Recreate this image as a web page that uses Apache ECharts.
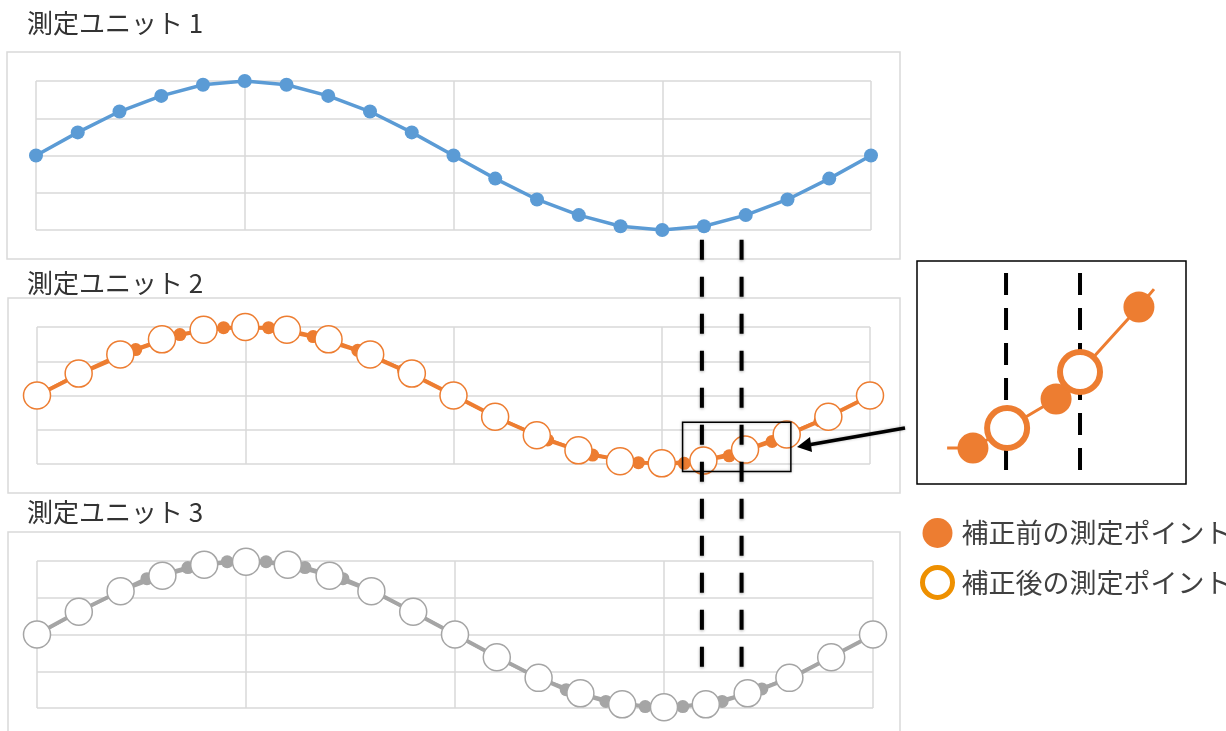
<!DOCTYPE html>
<html>
<head>
<meta charset="utf-8">
<script src="https://cdn.jsdelivr.net/npm/echarts@6/dist/echarts.min.js"></script>
<style>
  html, body { margin: 0; padding: 0; background: #fff; }
  #chart { width: 1226px; height: 731px; }
</style>
</head>
<body>
<div id="chart"></div>
<script>
const unitTitles = ['測定ユニット 1', '測定ユニット 2', '測定ユニット 3']
const legendNames = ['補正前の測定ポイント', '補正後の測定ポイント']

const sampleIdx = [0, 1, 2, 3, 4, 5, 6, 7, 8, 9, 10, 11, 12, 13, 14, 15, 16, 17, 18, 19, 20]
const unit1 = [0, 0.31, 0.59, 0.80, 0.95, 1.0, 0.95, 0.80, 0.59, 0.31, 0, -0.31, -0.59, -0.80, -0.95, -1.0, -0.95, -0.80, -0.59, -0.31, 0]

const unit2After = [0, 0.32, 0.60, 0.82, 0.96, 1.0, 0.96, 0.82, 0.60, 0.32, 0, -0.31, -0.58, -0.80, -0.96, -0.99, -0.95, -0.79, -0.57, -0.31, 0]
const unit2Before = [
  [0.1, 0.03], [1.15, 0.35], [2.37, 0.67], [3.43, 0.89], [4.48, 0.99], [5.56, 0.99],
  [6.63, 0.86], [7.7, 0.66], [8.8, 0.37], [9.95, 0.02], [11.1, -0.34], [12.26, -0.65],
  [13.34, -0.87], [14.44, -0.98], [15.54, -0.99], [16.62, -0.88], [17.65, -0.67],
  [18.8, -0.37], [19.85, -0.05]
]

const unit3After = [0, 0.31, 0.59, 0.80, 0.95, 0.99, 0.95, 0.80, 0.59, 0.31, 0, -0.31, -0.59, -0.80, -0.95, -0.99, -0.95, -0.80, -0.59, -0.31, 0]
const unit3Before = [
  [0.05, 0.02], [0.95, 0.30], [1.85, 0.55], [2.63, 0.76], [3.61, 0.91], [4.55, 0.99], [5.48, 0.99],
  [6.41, 0.91], [7.32, 0.76], [8.15, 0.56], [9.05, 0.29], [10.0, 0], [10.95, -0.29],
  [11.85, -0.55], [12.66, -0.75], [13.61, -0.91], [14.55, -0.98], [15.45, -0.98],
  [16.39, -0.91], [17.34, -0.74], [18.15, -0.56], [19.05, -0.29], [19.95, -0.02]
]

// inset (magnified view), axis 0..10 both ways
const insetLine = [[1.12, 1.61], [2.08, 1.61], [3.35, 2.51], [5.17, 3.81], [6.06, 5.02], [8.25, 7.94], [8.81, 8.74]]
const insetBefore = [[2.08, 1.61], [5.17, 3.81], [8.25, 7.94]]
const insetAfter = [[3.35, 2.51], [6.06, 5.02]]
const insetGuideX = [3.31, 6.06]
const insetGuideY = [0.63, 9.82]

// guide lines and zoom box, in unit axis values
const guideX = [15.95, 16.9]
const zoomBox = [[15.5, -0.39], [18.1, -1.11]]

const BLUE = '#5B9BD5'
const ORANGE = '#ED7D31'
const GRAY = '#A5A5A5'
const GRID = '#D9D9D9'
const FONT = "'Noto Sans CJK JP', sans-serif"

function pairs(xs, ys) {
  return xs.map((x, i) => [x, ys[i]])
}

function panelAxis(gridIndex, min, max, interval) {
  return {
    type: 'value', gridIndex, min, max, interval,
    axisLine: { show: false }, axisTick: { show: false }, axisLabel: { show: false },
    splitLine: { show: true, lineStyle: { color: GRID, width: 1.5 } }
  }
}

function hiddenAxis(gridIndex) {
  return {
    type: 'value', gridIndex, min: 0, max: 10,
    axisLine: { show: false }, axisTick: { show: false }, axisLabel: { show: false },
    splitLine: { show: false }
  }
}

function filledSeries(idx, data, color, width, size) {
  return {
    type: 'line', xAxisIndex: idx, yAxisIndex: idx, data, clip: false,
    symbol: 'circle', symbolSize: size, showSymbol: true,
    lineStyle: { color, width }, itemStyle: { color }, z: 2
  }
}

function hollowSeries(idx, data, color, width) {
  return {
    type: 'line', xAxisIndex: idx, yAxisIndex: idx, data, clip: false,
    symbol: 'circle', symbolSize: 27, showSymbol: true,
    lineStyle: { color, width },
    itemStyle: { color: '#fff', borderColor: color, borderWidth: 1.5 }, z: 3
  }
}

const chart = echarts.init(document.getElementById('chart'), null, { renderer: 'canvas' })

const titleTops = [10, 270, 499]

chart.setOption({
  animation: false,
  backgroundColor: '#fff',
  title: unitTitles.map((t, i) => ({
    text: t, left: 27, top: titleTops[i], padding: 0,
    textStyle: { fontFamily: FONT, fontSize: 26, fontWeight: 'normal', color: '#333' }
  })),
  legend: {
    orient: 'vertical', left: 920, top: 518, padding: 0, itemGap: 17,
    itemWidth: 30, itemHeight: 30, selectedMode: false,
    textStyle: { fontFamily: FONT, fontSize: 27, color: '#404040', padding: [0, 0, 0, 4] },
    data: [
      { name: legendNames[0], icon: 'circle', itemStyle: { color: ORANGE, borderWidth: 0 } },
      { name: legendNames[1], icon: 'circle', itemStyle: { color: '#fff', borderColor: '#EE9000', borderWidth: 5 } }
    ]
  },
  grid: [
    { left: 36, top: 81, width: 835, height: 149 },
    { left: 37, top: 327, width: 833, height: 137 },
    { left: 37, top: 561, width: 836, height: 147 },
    { left: 917, top: 261, width: 269, height: 223, show: true, borderColor: '#000', borderWidth: 1.5, backgroundColor: '#fff' }
  ],
  xAxis: [panelAxis(0, 0, 20, 5), panelAxis(1, 0, 20, 5), panelAxis(2, 0, 20, 5), hiddenAxis(3)],
  yAxis: [panelAxis(0, -1, 1, 0.5), panelAxis(1, -1, 1, 0.5), panelAxis(2, -1, 1, 0.5), hiddenAxis(3)],
  series: [
    filledSeries(0, pairs(sampleIdx, unit1), BLUE, 3.5, 14),
    filledSeries(1, unit2Before, ORANGE, 4, 13),
    hollowSeries(1, pairs(sampleIdx, unit2After), ORANGE, 3),
    filledSeries(2, unit3Before, GRAY, 4, 13),
    hollowSeries(2, pairs(sampleIdx, unit3After), GRAY, 3),
    {
      type: 'line', xAxisIndex: 3, yAxisIndex: 3, data: insetGuideY.map(y => [insetGuideX[0], y]),
      symbol: 'none', lineStyle: { color: '#000', width: 4, type: [22, 13] }, z: 1
    },
    {
      type: 'line', xAxisIndex: 3, yAxisIndex: 3, data: insetGuideY.map(y => [insetGuideX[1], y]),
      symbol: 'none', lineStyle: { color: '#000', width: 4, type: [22, 13] }, z: 1
    },
    {
      type: 'line', xAxisIndex: 3, yAxisIndex: 3, data: insetLine,
      symbol: 'none', lineStyle: { color: ORANGE, width: 3 }, z: 2
    },
    {
      name: legendNames[0], type: 'scatter', xAxisIndex: 3, yAxisIndex: 3, data: insetBefore,
      symbol: 'circle', symbolSize: 31, itemStyle: { color: ORANGE, opacity: 1 }, z: 3
    },
    {
      name: legendNames[1], type: 'scatter', xAxisIndex: 3, yAxisIndex: 3, data: insetAfter,
      symbol: 'circle', symbolSize: 40, itemStyle: { color: '#fff', borderColor: ORANGE, borderWidth: 6, opacity: 1 }, z: 4
    }
  ]
})

const top1 = chart.convertToPixel({ gridIndex: 0 }, [guideX[0], -1.13])
const bot3 = chart.convertToPixel({ gridIndex: 2 }, [guideX[0], -0.51])
const guideLines = guideX.map(gx => {
  const px = chart.convertToPixel({ gridIndex: 0 }, [gx, 0])[0]
  return {
    type: 'line', z: 100,
    shape: { x1: px, y1: top1[1], x2: px, y2: bot3[1] },
    style: { stroke: '#000', lineWidth: 4, lineDash: [20, 17], shadowBlur: 3, shadowColor: 'rgba(0,0,0,0.35)', shadowOffsetY: 1 }
  }
})

const zb0 = chart.convertToPixel({ gridIndex: 1 }, zoomBox[0])
const zb1 = chart.convertToPixel({ gridIndex: 1 }, zoomBox[1])

const panelBoxes = [
  { x: 7, y: 52, width: 893, height: 207 },
  { x: 8, y: 298, width: 892, height: 195 },
  { x: 8, y: 532, width: 892, height: 220 }
].map(s => ({
  type: 'rect', z: -1, shape: s,
  style: { fill: 'none', stroke: GRID, lineWidth: 1.5 }
}))

chart.setOption({
  graphic: [
    ...panelBoxes,
    ...guideLines,
    {
      type: 'rect', z: 101,
      shape: { x: zb0[0], y: zb0[1], width: zb1[0] - zb0[0], height: zb1[1] - zb0[1] },
      style: { fill: 'none', stroke: '#000', lineWidth: 1.5, shadowBlur: 3, shadowColor: 'rgba(0,0,0,0.3)' }
    },
    {
      type: 'line', z: 101,
      shape: { x1: 905, y1: 428, x2: 808, y2: 445 },
      style: { stroke: '#000', lineWidth: 3.5, shadowBlur: 3, shadowColor: 'rgba(0,0,0,0.3)' }
    },
    {
      type: 'polygon', z: 101,
      shape: { points: [[797, 447], [812, 452], [810, 437]] },
      style: { fill: '#000' }
    }
  ]
})
</script>
</body>
</html>
